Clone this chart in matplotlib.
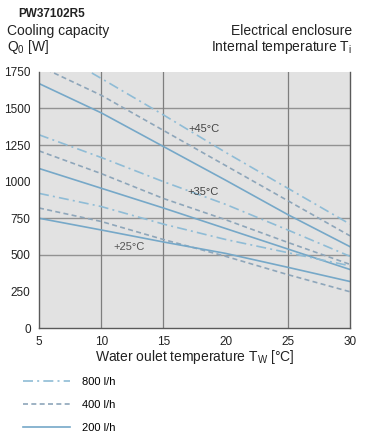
import numpy as np
import matplotlib.pyplot as plt
from matplotlib.lines import Line2D

plt.rcParams['font.family'] = ['Liberation Sans', 'DejaVu Sans']

# Water outlet temperature T_W [°C]
tw = [5, 10, 15, 20, 25, 30]

# Cooling capacity [W] for internal temperature 45 / 35 / 25 °C
q45_800 = [1950, 1705, 1456, 1200, 955, 710]
q45_400 = [1790, 1590, 1350, 1110, 870, 630]
q45_200 = [1670, 1470, 1240, 1010, 775, 556]

q35_800 = [1320, 1165, 1000, 845, 670, 490]
q35_400 = [1210, 1055, 885, 740, 585, 435]
q35_200 = [1090, 955, 820, 680, 540, 400]

q25_800 = [920, 830, 710, 605, 515, 425]
q25_400 = [820, 728, 605, 490, 365, 248]
q25_200 = [750, 670, 588, 510, 415, 318]

flows = ["800 l/h", "400 l/h", "200 l/h"]
temp_labels = ["+45°C", "+35°C", "+25°C"]
grid_x = [10, 15, 25]
grid_y = [500, 750, 1250, 1500]

# line styles per flow
STYLE = {
    "800 l/h": dict(color="#8fbcd6", ls=(0, (6, 2.5, 1.2, 2.5)), lw=1.2),
    "400 l/h": dict(color="#8ea6ba", ls=(0, (3, 2)), lw=1.2),
    "200 l/h": dict(color="#76a8c8", ls="-", lw=1.2),
}

fig = plt.figure(figsize=(3.68, 4.38), dpi=100)
ax = fig.add_axes([0.106, 0.251, 0.845, 0.585])
ax.set_facecolor("#e2e2e2")

for y in grid_y:
    ax.axhline(y, color="#929292", lw=1.0, zorder=1)
for x in grid_x:
    ax.axvline(x, color="#7e7e7e", lw=0.9, zorder=1)

groups = [
    (q45_800, q45_400, q45_200),
    (q35_800, q35_400, q35_200),
    (q25_800, q25_400, q25_200),
]
for grp in groups:
    for flow, vals in zip(flows, grp):
        ax.plot(tw, vals, zorder=2, **STYLE[flow])

# temperature labels
ax.text(17.0, 1340, temp_labels[0], fontsize=8, color="#444444", zorder=3)
ax.text(16.9, 910, temp_labels[1], fontsize=8, color="#444444", zorder=3)
ax.text(11.0, 535, temp_labels[2], fontsize=8, color="#555555", zorder=3)

ax.set_xlim(5, 30)
ax.set_ylim(0, 1750)
ax.set_xticks(range(5, 31, 5))
ax.set_yticks(range(0, 1751, 250))
ax.tick_params(length=0, labelsize=8.5, colors="#222222", pad=6)
for s in ["left", "bottom", "right"]:
    ax.spines[s].set_color("#5a5a5a")
    ax.spines[s].set_linewidth(1.0)
ax.spines["top"].set_visible(False)

ax.set_xlabel(r"Water oulet temperature T$_\mathregular{W}$ [°C]", fontsize=10,
              labelpad=0, color="#222222")

fig.text(0.049, 0.968, "PW37102R5", fontsize=8.5, fontweight="bold", va="center", color="#222222")
fig.text(0.019, 0.929, "Cooling capacity", fontsize=10, va="center", color="#222222")
fig.text(0.019, 0.892, r"Q$_\mathregular{0}$ [W]", fontsize=10, va="center", color="#222222")
fig.text(0.957, 0.929, "Electrical enclosure", fontsize=10, va="center", ha="right", color="#222222")
fig.text(0.957, 0.892, r"Internal temperature T$_\mathregular{i}$", fontsize=10, va="center",
         ha="right", color="#222222")

handles = [Line2D([], [], **STYLE[f]) for f in flows]
fig.legend(handles, flows, loc="upper left", bbox_to_anchor=(0.035, 0.162),
           frameon=False, fontsize=8, handlelength=4.2, handletextpad=1.1,
           labelspacing=1.15)

fig.savefig("out.png", dpi=100)
